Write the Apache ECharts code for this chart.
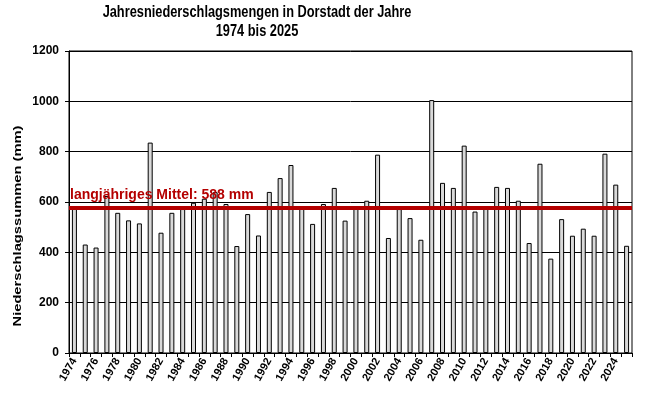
<!DOCTYPE html>
<html><head><meta charset="utf-8">
<script src="https://cdn.jsdelivr.net/npm/echarts@6/dist/echarts.min.js"></script>
<style>html,body{margin:0;padding:0;background:#fff}#c{width:653px;height:401px}</style>
</head><body><div id="c"></div>
<script>
const years = ['1974','1975','1976','1977','1978','1979','1980','1981','1982','1983','1984','1985','1986','1987','1988','1989','1990','1991','1992','1993','1994','1995','1996','1997','1998','1999','2000','2001','2002','2003','2004','2005','2006','2007','2008','2009','2010','2011','2012','2013','2014','2015','2016','2017','2018','2019','2020','2021','2022','2023','2024','2025'];
const precipitation = [578,431,419,624,557,527,515,836,478,557,572,597,613,639,592,425,552,467,640,695,747,584,513,592,656,526,574,605,788,457,572,536,450,1005,676,656,824,562,574,660,656,605,437,752,375,532,466,494,466,792,669,426];
const meanValue = 577;
const meanLabel = 'langjähriges Mittel: 588 mm';
const titleLine1 = 'Jahresniederschlagsmengen in Dorstadt der Jahre';
const titleLine2 = '1974 bis 2025';
const yAxisName = 'Niederschlagssummen (mm)';

const FONT = '"Liberation Sans", Arial, sans-serif';
const chart = echarts.init(document.getElementById('c'));
chart.setOption({
  animation: false,
  backgroundColor: '#fff',
  graphic: [
    {type: 'text', x: 257, y: 13, scaleX: 0.8, style: {text: titleLine1, fill: '#000', font: 'bold 16px ' + FONT, textAlign: 'center', textVerticalAlign: 'middle'}},
    {type: 'text', x: 257, y: 32, scaleX: 0.8, style: {text: titleLine2, fill: '#000', font: 'bold 16px ' + FONT, textAlign: 'center', textVerticalAlign: 'middle'}},
    {type: 'text', x: 18, y: 226, rotation: Math.PI / 2, scaleX: 1.05, scaleY: 0.8, style: {text: yAxisName, fill: '#000', font: 'bold 14px ' + FONT, textAlign: 'center', textVerticalAlign: 'middle'}}
  ],
  grid: {left: 69, right: 21, top: 51, bottom: 48, show: true, borderColor: '#000', borderWidth: 1, backgroundColor: '#fff'},
  xAxis: {
    type: 'category', data: years, boundaryGap: true,
    axisLine: {lineStyle: {color: '#000', width: 1}},
    axisTick: {show: true, interval: 0, length: 4, lineStyle: {color: '#000'}},
    axisLabel: {interval: 1, rotate: 60, margin: 6, color: '#000', fontWeight: 'bold', fontSize: 11, fontFamily: FONT}
  },
  yAxis: {
    type: 'value', min: 0, max: 1200, interval: 200,
    axisLine: {show: true, lineStyle: {color: '#000', width: 1}},
    axisTick: {show: true, length: 4, lineStyle: {color: '#000'}},
    axisLabel: {margin: 10, color: '#000', fontWeight: 'bold', fontSize: 12, fontFamily: FONT, formatter: v => String(v)},
    splitLine: {show: true, lineStyle: {color: '#000', width: 1}}
  },
  series: [{
    type: 'bar', data: precipitation, barWidth: 5,
    itemStyle: {color: '#d9d9d9', borderColor: '#000', borderWidth: 1},
    markLine: {
      silent: true, symbol: 'none',
      data: [{yAxis: meanValue}],
      lineStyle: {color: '#b40000', width: 4, type: 'solid'},
      label: {show: true, position: 'insideStartTop', distance: [1, 6], formatter: meanLabel, color: '#b40000', fontWeight: 'bold', fontSize: 14, fontFamily: FONT}
    }
  }]
});
</script></body></html>
